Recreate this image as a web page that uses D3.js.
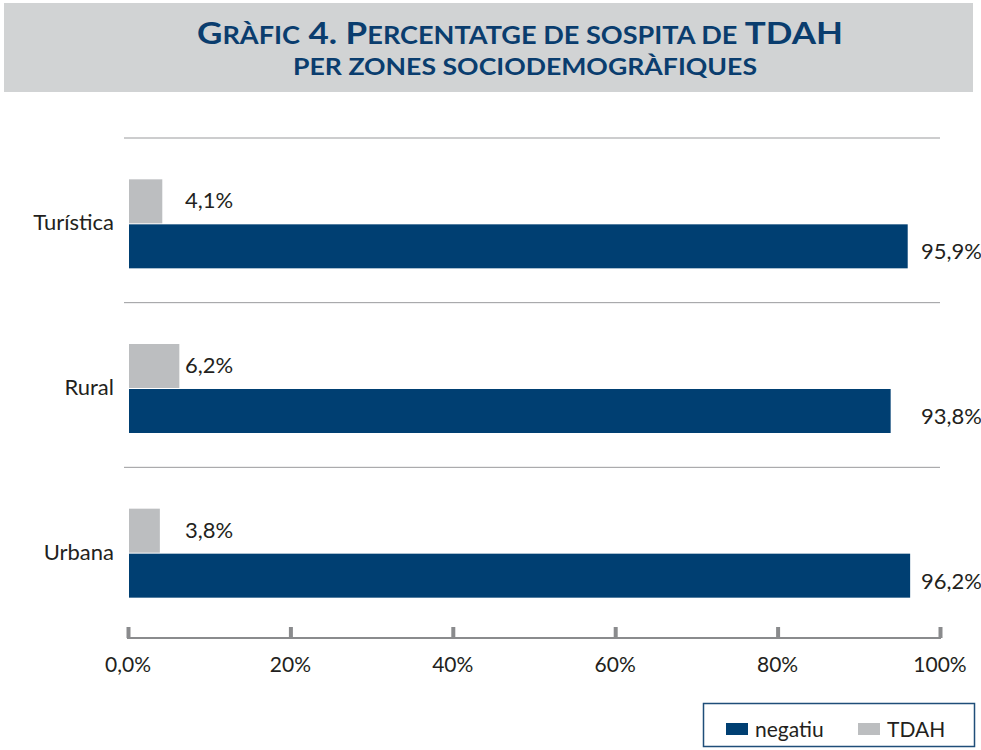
<!DOCTYPE html>
<html>
<head>
<meta charset="utf-8">
<script src="https://cdn.jsdelivr.net/npm/d3@7"></script>
<style>
  body { margin: 0; background: #fff; }
  svg { display: block; font-family: Lato, "Open Sans", sans-serif; }
</style>
</head>
<body>
<svg id="chart" width="981" height="750"></svg>
<script>
// data
const categories = ['Turística', 'Rural', 'Urbana'];
const negatiu = [95.9, 93.8, 96.2];
const tdah = [4.1, 6.2, 3.8];
const ticks = [0, 20, 40, 60, 80, 100];
const tickLabels = ['0,0%', '20%', '40%', '60%', '80%', '100%'];
const seriesNames = ['negatiu', 'TDAH'];

const navy = '#003f72';
const grey = '#bcbec0';
const fmt = v => v.toFixed(1).replace('.', ',') + '%';

const svg = d3.select('#chart');

// title banner
svg.append('rect')
    .attr('x', 4).attr('y', 3).attr('width', 969).attr('height', 89)
    .attr('fill', '#d1d3d4');

const title = svg.append('g')
    .attr('fill', '#0a3d6e')
    .attr('font-weight', 'bold')
    .attr('text-anchor', 'middle');

// fake small caps: big capitals + smaller capitals
const line1 = [['G', 31], ['RÀFIC', 24], [' 4. P', 31], ['ERCENTATGE DE SOSPITA DE', 24], [' TDAH', 31]];
const t1 = title.append('text').attr('x', 520).attr('y', 44)
    .attr('textLength', 646).attr('lengthAdjust', 'spacingAndGlyphs');
line1.forEach(([s, fs]) => t1.append('tspan').attr('font-size', fs).text(s));

title.append('text').attr('x', 525).attr('y', 75)
    .attr('font-size', 23)
    .attr('textLength', 464).attr('lengthAdjust', 'spacingAndGlyphs')
    .text('PER ZONES SOCIODEMOGRÀFIQUES');

// scales
const x = d3.scaleLinear().domain([0, 100]).range([128, 940]);
const y = d3.scaleBand().domain(categories).range([141, 635]);
const barH = 44;

// separator lines
svg.append('g').selectAll('line')
    .data(categories)
    .join('line')
    .attr('x1', 124).attr('x2', 940)
    .attr('y1', d => y(d) - 3).attr('y2', d => y(d) - 3)
    .attr('stroke', '#9a9b9d').attr('stroke-width', 1);

const rows = categories.map((c, i) => ({ cat: c, neg: negatiu[i], tdah: tdah[i] }));

const g = svg.append('g');

// TDAH bars (top)
g.selectAll('.tdah')
    .data(rows)
    .join('rect')
    .attr('class', 'tdah')
    .attr('x', x(0) + 1)
    .attr('y', d => y(d.cat) + y.bandwidth() / 2 - barH)
    .attr('width', d => x(d.tdah) - x(0))
    .attr('height', barH)
    .attr('fill', grey);

// negatiu bars (bottom)
g.selectAll('.neg')
    .data(rows)
    .join('rect')
    .attr('class', 'neg')
    .attr('x', x(0) + 1)
    .attr('y', d => y(d.cat) + y.bandwidth() / 2 + 1)
    .attr('width', d => x(d.neg) - x(0))
    .attr('height', barH)
    .attr('fill', navy);

// value labels
g.selectAll('.tdah-lbl')
    .data(rows)
    .join('text')
    .attr('x', 185)
    .attr('y', d => y(d.cat) + y.bandwidth() / 2 - barH / 2 + 7)
    .attr('font-size', 22).attr('fill', '#231f20')
    .text(d => fmt(d.tdah));

g.selectAll('.neg-lbl')
    .data(rows)
    .join('text')
    .attr('x', 921)
    .attr('y', d => y(d.cat) + y.bandwidth() / 2 + barH / 2 + 14)
    .attr('font-size', 22).attr('fill', '#231f20')
    .text(d => fmt(d.neg));

// category labels
g.selectAll('.cat')
    .data(rows)
    .join('text')
    .attr('x', 114)
    .attr('y', d => y(d.cat) + y.bandwidth() / 2 + 7)
    .attr('text-anchor', 'end')
    .attr('font-size', 22).attr('fill', '#231f20')
    .text(d => d.cat);

// x axis
const axis = svg.append('g').attr('transform', 'translate(0,638)')
    .call(d3.axisTop(x).tickValues(ticks).tickSize(11).tickFormat(''));
axis.select('.domain').attr('stroke', '#8a8b8d').attr('stroke-width', 2)
    .attr('d', `M${x(0)},-11V0H${x(100)}V-11`);
axis.selectAll('.tick line').attr('stroke', '#8a8b8d').attr('stroke-width', 4);

svg.append('g').selectAll('text')
    .data(ticks)
    .join('text')
    .attr('x', d => x(d))
    .attr('y', 672)
    .attr('text-anchor', 'middle')
    .attr('font-size', 21).attr('fill', '#231f20')
    .text((d, i) => tickLabels[i]);

// legend
const legend = svg.append('g');
legend.append('rect')
    .attr('x', 703.5).attr('y', 703.5).attr('width', 271).attr('height', 43)
    .attr('fill', '#fff').attr('stroke', '#1f4e79').attr('stroke-width', 1.5);

const legX = [726, 858];
const items = legend.selectAll('.item')
    .data(seriesNames)
    .join('g')
    .attr('transform', (d, i) => `translate(${legX[i]},723)`);
items.append('rect')
    .attr('width', 22).attr('height', 12)
    .attr('fill', (d, i) => i === 0 ? navy : grey);
items.append('text')
    .attr('x', 29).attr('y', 14)
    .attr('font-size', 21).attr('fill', '#231f20')
    .text(d => d);
</script>
</body>
</html>
